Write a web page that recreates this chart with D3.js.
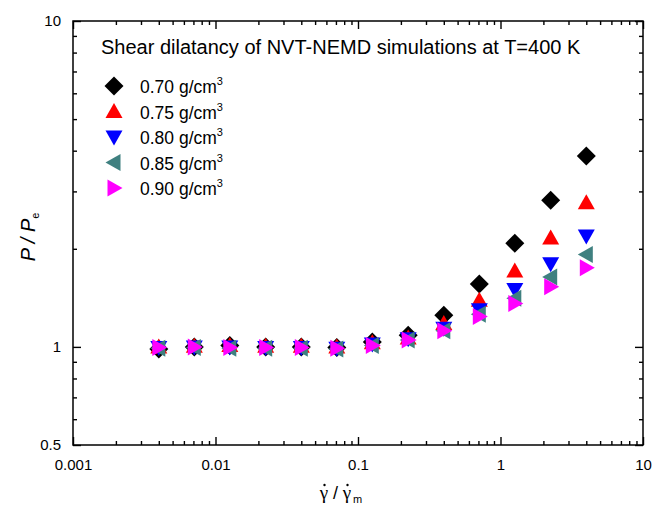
<!DOCTYPE html>
<html>
<head>
<meta charset="utf-8">
<script src="https://cdn.jsdelivr.net/npm/d3@7"></script>
<style>
  html, body { margin: 0; padding: 0; background: #fff; }
  svg { display: block; font-family: "Liberation Sans", Arial, sans-serif; }
</style>
</head>
<body>
<svg id="chart" width="655" height="507"></svg>
<script>
// Reduced shear rate (gamma-dot / gamma-dot_m)
const shearRates = [0.004, 0.0071, 0.0126, 0.0225, 0.04, 0.071, 0.126, 0.225, 0.4, 0.71, 1.26, 2.25, 4.0];

// P / P_e for each density
const densities = ["0.70", "0.75", "0.80", "0.85", "0.90"];
const p070 = [0.985, 1.0, 1.01, 1.0, 1.0, 0.995, 1.035, 1.085, 1.25, 1.56, 2.08, 2.82, 3.85];
const p075 = [1.0, 1.005, 1.01, 1.005, 1.005, 1.0, 1.03, 1.065, 1.18, 1.39, 1.71, 2.16, 2.77];
const p080 = [0.995, 1.0, 1.0, 0.995, 0.995, 0.99, 1.02, 1.06, 1.14, 1.30, 1.50, 1.80, 2.19];
const p085 = [0.99, 0.995, 0.99, 0.99, 0.99, 0.985, 1.01, 1.05, 1.12, 1.26, 1.41, 1.64, 1.92];
const p090 = [0.995, 1.0, 0.995, 0.995, 0.995, 0.99, 1.01, 1.05, 1.12, 1.24, 1.36, 1.53, 1.75];

const xTickLabels = ["0.001", "0.01", "0.1", "1", "10"];
const yTickLabels = ["0.5", "1", "10"];

const seriesValues = [p070, p075, p080, p085, p090];
const colors = ["#000000", "#ff0000", "#0000ff", "#3f8080", "#ff00ff"];
const shapes = ["diamond", "up", "down", "left", "right"];

const svg = d3.select("#chart");
const m = { left: 73, right: 643, top: 21, bottom: 445 };

const x = d3.scaleLog().domain([0.001, 10]).range([m.left, m.right]);
const y = d3.scaleLog().domain([0.5, 10]).range([m.bottom, m.top]);

// minor tick positions on both log axes
const xMinor = [];
for (let e = -3; e < 1; e++) for (let k = 2; k <= 9; k++) xMinor.push(k * Math.pow(10, e));
const yMinor = [0.6, 0.7, 0.8, 0.9, 2, 3, 4, 5, 6, 7, 8, 9];
const xMajor = xTickLabels.map(Number);
const yMajor = yTickLabels.map(Number);

const axisStyle = g => {
  g.select(".domain").remove();
  g.selectAll(".tick line").attr("stroke", "#000").attr("stroke-width", 1.4);
  g.selectAll(".tick text").attr("font-family", "Liberation Sans, Arial, sans-serif")
    .attr("font-size", 15).attr("fill", "#000");
};

// bottom axis
svg.append("g").attr("transform", `translate(0,${m.bottom})`)
  .call(d3.axisBottom(x).tickValues(xMajor).tickSize(-8).tickPadding(14)
    .tickFormat((d, i) => xTickLabels[i]))
  .call(axisStyle);
svg.append("g").attr("transform", `translate(0,${m.bottom})`)
  .call(d3.axisBottom(x).tickValues(xMinor).tickSize(-4).tickFormat(""))
  .call(axisStyle);
// top axis
svg.append("g").attr("transform", `translate(0,${m.top})`)
  .call(d3.axisTop(x).tickValues(xMajor).tickSize(-8).tickFormat(""))
  .call(axisStyle);
svg.append("g").attr("transform", `translate(0,${m.top})`)
  .call(d3.axisTop(x).tickValues(xMinor).tickSize(-4).tickFormat(""))
  .call(axisStyle);
// left axis
svg.append("g").attr("transform", `translate(${m.left},0)`)
  .call(d3.axisLeft(y).tickValues(yMajor).tickSize(-8).tickPadding(12)
    .tickFormat((d, i) => yTickLabels[i]))
  .call(axisStyle);
svg.append("g").attr("transform", `translate(${m.left},0)`)
  .call(d3.axisLeft(y).tickValues(yMinor).tickSize(-4).tickFormat(""))
  .call(axisStyle);
// right axis
svg.append("g").attr("transform", `translate(${m.right},0)`)
  .call(d3.axisRight(y).tickValues(yMajor).tickSize(-8).tickFormat(""))
  .call(axisStyle);
svg.append("g").attr("transform", `translate(${m.right},0)`)
  .call(d3.axisRight(y).tickValues(yMinor).tickSize(-4).tickFormat(""))
  .call(axisStyle);

// frame
svg.append("rect")
  .attr("x", m.left).attr("y", m.top)
  .attr("width", m.right - m.left).attr("height", m.bottom - m.top)
  .attr("fill", "none").attr("stroke", "#000").attr("stroke-width", 1.5);

// marker outlines, centred at the origin
function markerPath(shape) {
  const d = 9.5, w = 8.5, h = 7.5;
  switch (shape) {
    case "diamond": return `M0,${-d}L${d},0L0,${d}L${-d},0Z`;
    case "up": return `M0,${-h - 1}L${w},${h - 1}L${-w},${h - 1}Z`;
    case "down": return `M0,${h + 1}L${w},${-h + 1}L${-w},${-h + 1}Z`;
    case "left": return `M${-h - 1},0L${h - 1},${-w}L${h - 1},${w}Z`;
    case "right": return `M${h + 1},0L${-h + 1},${-w}L${-h + 1},${w}Z`;
  }
}

// data points
seriesValues.forEach((vals, si) => {
  svg.append("g")
    .selectAll("path")
    .data(vals.map((v, i) => ({ x: shearRates[i], y: v })))
    .join("path")
    .attr("d", markerPath(shapes[si]))
    .attr("transform", d => `translate(${x(d.x)},${y(d.y)})`)
    .attr("fill", colors[si]);
});

// title
svg.append("text")
  .attr("x", 101).attr("y", 54)
  .attr("font-size", 20).attr("fill", "#000")
  .text("Shear dilatancy of NVT-NEMD simulations at T=400 K");

// legend
const legend = svg.append("g");
densities.forEach((dens, i) => {
  const ly = 86 + i * 25.5;
  legend.append("path")
    .attr("d", markerPath(shapes[i]))
    .attr("transform", `translate(114,${ly})`)
    .attr("fill", colors[i]);
  const t = legend.append("text")
    .attr("x", 140).attr("y", ly + 7)
    .attr("font-size", 17.5).attr("fill", "#000");
  t.append("tspan").text(`${dens} g/cm`);
  t.append("tspan").attr("dy", -8).attr("font-size", 11).text("3");
});

// y-axis label: P / P_e
const yl = svg.append("text")
  .attr("transform", "translate(35,237) rotate(-90)")
  .attr("text-anchor", "middle")
  .attr("font-size", 20).attr("font-style", "italic").attr("fill", "#000");
yl.append("tspan").text("P / P");
yl.append("tspan").attr("dy", 4).attr("font-size", 11).attr("font-style", "normal").text("e");

// x-axis label: gamma-dot / gamma-dot_m, with the dots drawn over each gamma
const xLabel = svg.append("g").attr("transform", "translate(343,499)");
const gammaParts = [
  { dx: -19, t: "\u03B3" },
  { dx: 4, t: "\u03B3" }
];
xLabel.selectAll("text.gamma")
  .data(gammaParts)
  .join("text")
  .attr("class", "gamma")
  .attr("x", d => d.dx)
  .attr("font-family", "Liberation Serif, serif")
  .attr("font-size", 19)
  .attr("text-anchor", "middle")
  .text(d => d.t);
xLabel.selectAll("circle.dot")
  .data(gammaParts)
  .join("circle")
  .attr("class", "dot")
  .attr("cx", d => d.dx + 0.5)
  .attr("cy", -14)
  .attr("r", 1.2)
  .attr("fill", "#000");
xLabel.append("text")
  .attr("x", -7.5).attr("font-size", 18).attr("text-anchor", "middle")
  .text("/");
xLabel.append("text")
  .attr("x", 10).attr("y", 4).attr("font-size", 11)
  .text("m");
</script>
</body>
</html>
